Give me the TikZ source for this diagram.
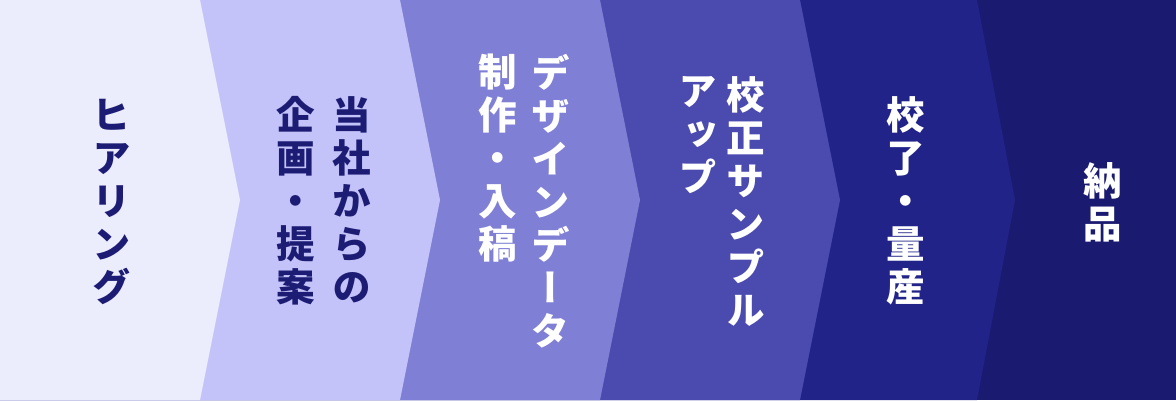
\documentclass[tikz,border=0pt]{standalone}
\usepackage{fontspec}
\newfontfamily\jp[RawFeature=+vert]{Noto Sans CJK JP}
\definecolor{cA}{HTML}{EBECFC}
\definecolor{cB}{HTML}{C3C3F9}
\definecolor{cC}{HTML}{7F7FD5}
\definecolor{cD}{HTML}{4A4AAF}
\definecolor{cE}{HTML}{212388}
\definecolor{cF}{HTML}{1A1A70}
\definecolor{ink}{HTML}{1C1C75}
\begin{document}
\begin{tikzpicture}[x=1pt,y=-1pt,
  col/.style={anchor=north, inner sep=0pt, align=center,
    font=\jp\bfseries\fontsize{38.5}{43}\selectfont},
  darktext/.style={col, text=ink},
  lighttext/.style={col, text=white}]
\useasboundingbox (0,0) rectangle (1176,400);
\fill[cF] (0,0) rectangle (1176,400);
\fill[cE] (0,0) -- (977,0) -- (1015,200) -- (977,400) -- (0,400) -- cycle;
\fill[cD] (0,0) -- (800,0) -- (840,200) -- (800,400) -- (0,400) -- cycle;
\fill[cC] (0,0) -- (600,0) -- (640,200) -- (600,400) -- (0,400) -- cycle;
\fill[cB] (0,0) -- (400,0) -- (440,200) -- (400,400) -- (0,400) -- cycle;
\fill[cA] (0,0) -- (200,0) -- (240,200) -- (200,400) -- (0,400) -- cycle;

\node[darktext] (s1) at (112,99) {ヒ\\ア\\リ\\ン\\グ};
\node[darktext] (s2a) at (352,96) {当\\社\\か\\ら\\の};
\node[darktext] (s2b) at (296,96) {企\\画\\・\\提\\案};
\node[lighttext] (s3a) at (551,54) {デ\\ザ\\イ\\ン\\デ\\ー\\タ};
\node[lighttext] (s3b) at (498,54) {制\\作\\・\\入\\稿};
\node[lighttext] (s4a) at (746,76) {校\\正\\サ\\ン\\プ\\ル};
\node[lighttext] (s4b) at (698,76) {ア\\ッ\\プ};
\node[lighttext] (s5) at (906,96) {校\\了\\・\\量\\産};
\node[lighttext] (s6) at (1103,162) {納\\品};
\end{tikzpicture}
\end{document}
